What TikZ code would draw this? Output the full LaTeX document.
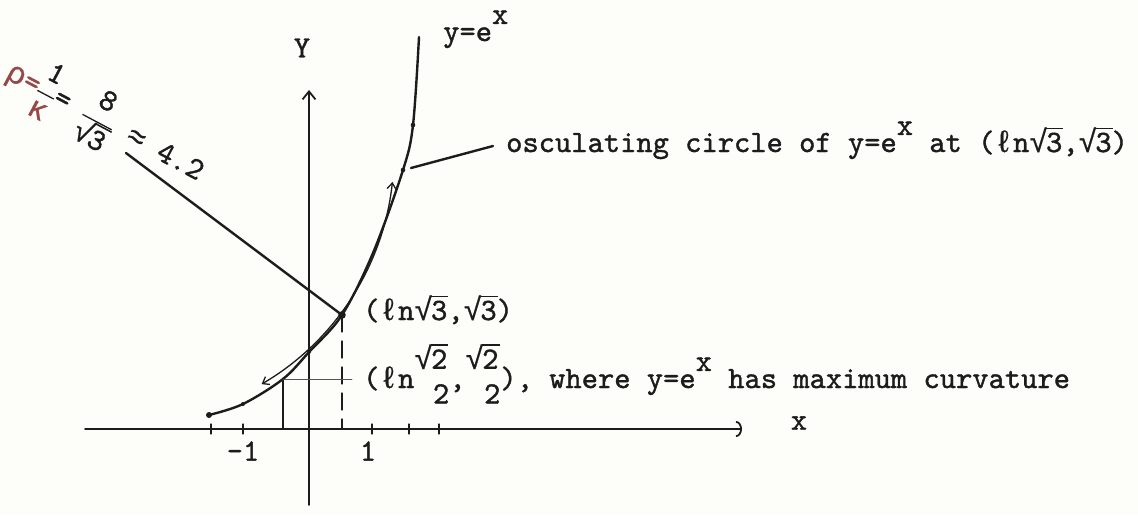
\documentclass[tikz,border=0pt]{standalone}
\usepackage{fontspec}
\setmainfont[FakeBold=1.2]{lmmono10-regular.otf}
\newfontfamily\symf[FakeBold=0.6]{Liberation Mono}
\usetikzlibrary{arrows.meta}
\definecolor{ink}{RGB}{28,28,28}
\definecolor{redink}{RGB}{150,72,72}
\definecolor{paper}{RGB}{253,253,249}
\newcommand\rad[1]{{\symf √}\kern-0.06em\rlap{\rule[0.74em]{0.56em}{0.05em}}#1}
\newcommand\stk[2]{\makebox[0pt][l]{\raisebox{0.62em}{#1}}\raisebox{-0.5em}{#2}}
\newcommand\supx{\raisebox{0.55em}{x}}
\newcommand\bfrac[2]{\begin{tabular}[c]{@{}c@{}}#1\\[0.1em]\hline #2\end{tabular}}
\setlength\arrayrulewidth{1.3pt}
\begin{document}
\begin{tikzpicture}[x=1pt,y=-1pt, line cap=round, line join=round,
  font=\fontsize{31}{36}\selectfont,
  axisline/.style={draw=ink, line width=1.8pt},
  curveline/.style={draw=ink, line width=2.4pt},
  thinline/.style={draw=ink, line width=1.3pt},
  hairline/.style={draw=ink!75, line width=0.9pt},
  lbl/.style={inner sep=0pt, text=ink}]
\fill[paper] (0,0) rectangle (1138,515);
\useasboundingbox (0,0) rectangle (1138,515);
% axes
\coordinate (xl) at (85,429);
\coordinate (xr) at (742,429);
\coordinate (yb) at (309,505);
\coordinate (yt) at (309,90);
\draw[axisline, -{Arc Barb[length=6pt,width=16pt]}] (xl) -- (xr);
\draw[axisline, -{Straight Barb[length=8pt,width=13pt]}] (yb) -- (yt);
\foreach \t in {211,243,372,409,439} \draw[thinline] (\t,424) -- (\t,434);
\node[lbl] (ylab) at (302,48) {Y};
\node[lbl] (xlab) at (799,423) {x};
\node[lbl] (m1) at (243,451) {-1};
\node[lbl] (p1) at (368,451) {1};
% curve y=e^x
\coordinate (c0) at (209,415);
\coordinate (c1) at (243,404);
\coordinate (Q) at (283,379);
\coordinate (c3) at (309,352);
\coordinate (P) at (342,315);
\coordinate (c5) at (373,253);
\coordinate (D1) at (403,170);
\coordinate (D2) at (413,125);
\coordinate (ctop) at (419,37);
\draw[curveline] plot[smooth, tension=0.55] coordinates {(c0) (c1) (Q) (c3) (P) (c5) (D1) (D2) (ctop)};
\fill[ink] (c0) circle (3);
\fill[ink] (c1) circle (2);
\fill[ink] (c3) circle (2);
\fill[ink] (D1) circle (2.3);
\fill[ink] (D2) circle (2.3);
\fill[ink] (P) circle (3.8);
\node[lbl, anchor=base west] (ylabel) at (443,41) {y=e\supx};
% osculating circle: centre C, radius 268
\coordinate (C) at (126,153);
\coordinate (A1) at ([shift={(59.6:268)}]C);
\draw[thinline, {Straight Barb[length=6pt,width=9pt]}-{Straight Barb[length=6pt,width=9pt]}] (A1) arc[start angle=59.6, end angle=6.2, radius=268];
\draw[curveline] (P) -- (C);
\node[lbl, rotate=-28] (rho) at (104,124) {\textcolor{redink}{{\symf ρ}=}\bfrac{1}{\textcolor{redink}{\symf κ}}= \bfrac{8}{\rad{3}} {\symf ≈} 4.2};
% osculating label
\node[lbl, anchor=base west] (osc) at (506,152) {osculating circle of y=e\supx{} at ({\symf ℓ}n\rad{3},\rad{3})};
\coordinate (L1) at (411,168);
\draw[curveline] (L1) -- ([shift={(-13,-6)}]osc.base west);
% point (ln sqrt3, sqrt3)
\node[lbl, anchor=base west] (plab) at (363,320) {({\symf ℓ}n\rad{3},\rad{3})};
\draw[thinline, dash pattern=on 17pt off 9pt] (P) -- (P |- xl);
% point of maximum curvature
\node[lbl, anchor=base west] (mlab) at (363,388) {({\symf ℓ}n\stk{\rad{2}}{\phantom{\symf √}2},\stk{\rad{2}}{\phantom{\symf √}2}), where y=e\supx{} has maximum curvature};
\coordinate (mlw) at ([xshift=-11pt]mlab.base west);
\draw[thinline] (Q) -- (Q |- xl);
\draw[hairline] (Q) -- (Q -| mlw);
\end{tikzpicture}
\end{document}
